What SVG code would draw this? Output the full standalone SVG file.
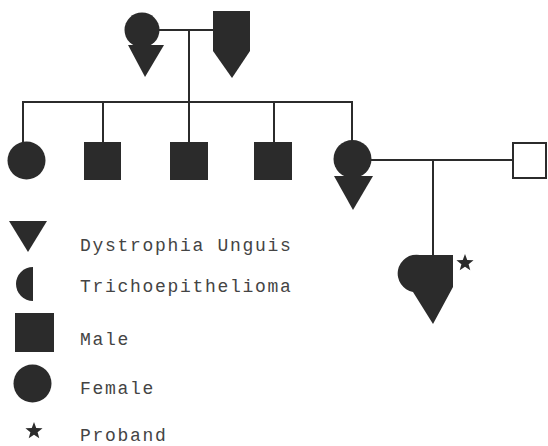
<svg xmlns="http://www.w3.org/2000/svg" width="548" height="446" viewBox="0 0 548 446">
<defs>
<style>
.f{fill:#2b2b2b;stroke:none}
.ln{stroke:#2b2b2b;stroke-width:2;fill:none}
.o{fill:#fff;stroke:#2b2b2b;stroke-width:2}
.t{font-family:"Liberation Mono","Courier New",monospace;font-size:18px;letter-spacing:1.7px;fill:#444}
</style>
<path id="star" d="M0,-9 L2.23,-3.07 L8.56,-2.78 L3.61,1.17 L5.29,7.28 L0,3.8 L-5.29,7.28 L-3.61,1.17 L-8.56,-2.78 L-2.23,-3.07 Z"/>
</defs>
<rect width="548" height="446" fill="#fff"/>
<g id="connectors" class="ln">
<line x1="158" y1="30" x2="214" y2="30"/>
<line x1="189" y1="30" x2="189" y2="102"/>
<line x1="22" y1="102" x2="353" y2="102"/>
<line x1="23" y1="102" x2="23" y2="143"/>
<line x1="103" y1="102" x2="103" y2="143"/>
<line x1="189" y1="102" x2="189" y2="143"/>
<line x1="274" y1="102" x2="274" y2="143"/>
<line x1="352" y1="102" x2="352" y2="143"/>
<line x1="370" y1="160" x2="513" y2="160"/>
<line x1="433" y1="160" x2="433" y2="256"/>
</g>
<g id="grandmother">
<circle class="f" cx="142" cy="30" r="17.5"/>
<polygon class="f" points="128,45 164,45 145,77"/>
</g>
<g id="grandfather">
<polygon class="f" points="213,11 250,11 250,51 232,78 213,51"/>
</g>
<g id="daughter1"><circle class="f" cx="26.5" cy="160.5" r="19"/></g>
<g id="son1"><rect class="f" x="84" y="142" width="37" height="38"/></g>
<g id="son2"><rect class="f" x="170" y="142" width="38" height="38"/></g>
<g id="son3"><rect class="f" x="254" y="142" width="38" height="38"/></g>
<g id="mother">
<circle class="f" cx="352.5" cy="159" r="19"/>
<polygon class="f" points="334,176 373,176 353,210"/>
</g>
<g id="father"><rect class="o" x="513" y="143" width="33" height="35"/></g>
<g id="proband">
<path class="f" d="M420,255 L453,255 L453,287 L433,324 L413,292 A18,18 0 0 1 420,255 Z"/>
<use href="#star" class="f" x="465" y="263"/>
</g>
<g id="legend">
<polygon class="f" points="9,221 47,221 28,252"/>
<text class="t" x="80" y="251">Dystrophia Unguis</text>
<path class="f" d="M33,267 A17,17 0 0 0 33,301 Z"/>
<text class="t" x="80" y="292">Trichoepithelioma</text>
<rect class="f" x="15" y="313" width="39" height="39"/>
<text class="t" x="80" y="345">Male</text>
<circle class="f" cx="32.5" cy="383.5" r="19"/>
<text class="t" x="80" y="394">Female</text>
<use href="#star" class="f" x="34" y="431"/>
<text class="t" x="80" y="441">Proband</text>
</g>
</svg>
